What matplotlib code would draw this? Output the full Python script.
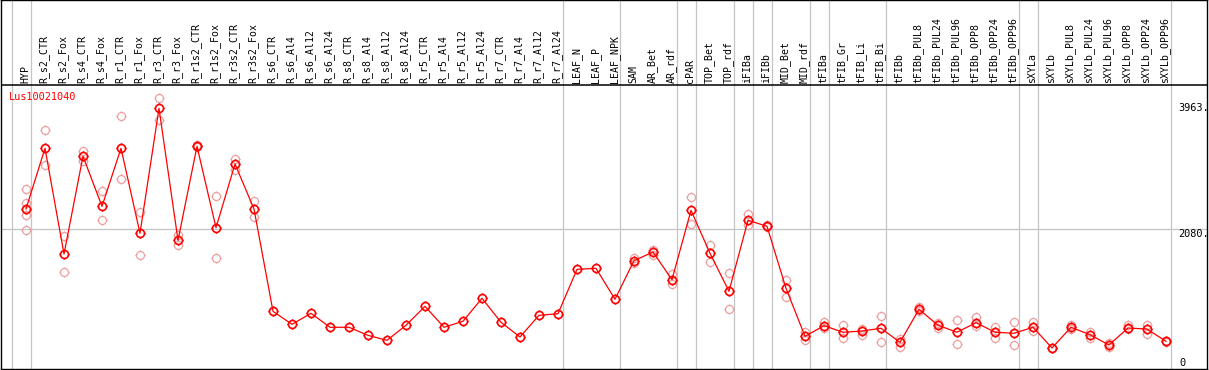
import matplotlib
matplotlib.use("Agg")
import matplotlib.pyplot as plt
import matplotlib.path as mpath

title = "Lus10021040"

categories = [
    "HYP", "R_s2_CTR", "R_s2_Fox", "R_s4_CTR", "R_s4_Fox", "R_r1_CTR", "R_r1_Fox",
    "R_r3_CTR", "R_r3_Fox", "R_r1s2_CTR", "R_r1s2_Fox", "R_r3s2_CTR", "R_r3s2_Fox",
    "R_s6_CTR", "R_s6_Al4", "R_s6_Al12", "R_s6_Al24", "R_s8_CTR", "R_s8_Al4",
    "R_s8_Al12", "R_s8_Al24", "R_r5_CTR", "R_r5_Al4", "R_r5_Al12", "R_r5_Al24",
    "R_r7_CTR", "R_r7_Al4", "R_r7_Al12", "R_r7_Al24", "LEAF_N", "LEAF_P", "LEAF_NPK",
    "SAM", "AR_Bet", "AR_rdf", "cPAR", "TOP_Bet", "TOP_rdf", "iFIBa", "iFIBb",
    "MID_Bet", "MID_rdf", "tFIBa", "tFIB_Gr", "tFIB_Li", "tFIB_Bi", "tFIBb",
    "tFIBb_PUL8", "tFIBb_PUL24", "tFIBb_PUL96", "tFIBb_OPP8", "tFIBb_OPP24",
    "tFIBb_OPP96", "sXYLa", "sXYLb", "sXYLb_PUL8", "sXYLb_PUL24", "sXYLb_PUL96",
    "sXYLb_OPP8", "sXYLb_OPP24", "sXYLb_OPP96",
]

means = [
    2375, 3287, 1698, 3167, 2415, 3287, 2010, 3888, 1904, 3317, 2094, 3051, 2375,
    837, 642, 807, 597, 597, 476, 401, 627, 912, 597, 687, 1033, 672, 451, 777, 801,
    1468, 1483, 1018, 1598, 1728, 1312, 2355, 1709, 1138, 2205, 2115, 1183, 461,
    621, 522, 541, 582, 371, 867, 627, 522, 666, 522, 507, 597, 286, 597, 485, 331,
    586, 571, 386,
]

replicates = [
    [2671, 2465, 2292, 2055], [3558, 3032], [1964, 1428], [3251, 3101], [2641, 2205],
    [3768, 2826], [2325, 1679], [4043, 3717], [1988, 1838], [3332, 3302], [2566, 1634],
    [3131, 2965], [2490, 2250],
    [], [], [], [], [], [], [], [], [], [], [], [], [], [], [], [], [], [], [],
    [1634, 1563], [1763, 1688], [1402, 1247], [2551, 2154], [1834, 1578], [1408, 872],
    [2295, 2130], [2139, 2100], [1308, 1057], [522, 406], [676, 586], [627, 436],
    [576, 485], [762, 371], [425, 301], [897, 846], [666, 586], [702, 350], [747, 612],
    [597, 436], [672, 326], [676, 537], [283, 289], [636, 567], [531, 436], [356, 305],
    [627, 567], [636, 496], [380, 392],
]

group_ends = [-1, 0, 28, 31, 34, 35, 37, 38, 39, 41, 42, 45, 52, 53, 60]

axis_labels = [3963, 2080, 0]

# ---- layout (pixel geometry of the reference) ----
W, H = 1209, 370
X0PIX, XSTEP = 26.0, 19.0          # pixel of first category, spacing
Y0PIX, UPP = 367.0, 15.03          # pixel of value 0, value units per pixel
SEP_PIX = 85.0                     # black line between labels and plot

def px_to_x(px):
    return (px - X0PIX) / XSTEP

def py_to_v(py):
    return (Y0PIX - py) * UPP

fig = plt.figure(figsize=(W / 100, H / 100), dpi=100)
ax = fig.add_axes([1 / W, 1 / H, 1206 / W, 369 / H])
ax.set_xlim(px_to_x(1), px_to_x(1207))
ax.set_ylim(py_to_v(369), py_to_v(0))
ax.set_xticks([])
ax.set_yticks([])
for s in ax.spines.values():
    s.set_color("black")
    s.set_linewidth(1.0)

mono = "DejaVu Sans Mono"
grey = "#c4c4c4"

# separators and grid
for g in group_ends:
    ax.axvline(g + 0.25, color=grey, lw=0.9, zorder=1)
ax.axhline(2080, color=grey, lw=0.9, zorder=1)
ax.axhline(py_to_v(SEP_PIX), color="black", lw=1.1, zorder=2)

# marker: circle with small ticks
circ = mpath.Path.unit_circle()
verts = list(circ.vertices)
codes = list(circ.codes)
for (a, b, c, d) in [(0, 1, 0, 1.25), (0, -1, 0, -1.25), (1, 0, 1.25, 0), (-1, 0, -1.25, 0)]:
    verts += [(a, b), (c, d)]
    codes += [mpath.Path.MOVETO, mpath.Path.LINETO]
tick_circle = mpath.Path(verts, codes)

# replicates
rx, ry = [], []
for i, reps in enumerate(replicates):
    for r in reps:
        rx.append(i)
        ry.append(r)
ax.plot(rx, ry, ls="none", marker=tick_circle, markersize=7.2,
        markerfacecolor="none", markeredgecolor="#eaa0a0", markeredgewidth=0.9, zorder=3)

# means
xs = list(range(len(categories)))
ax.plot(xs, means, color="#ff0000", lw=0.9, zorder=4)
ax.plot(xs, means, ls="none", marker=tick_circle, markersize=7.2,
        markerfacecolor="none", markeredgecolor="#ff0000", markeredgewidth=1.2, zorder=5)

# category labels
for i, lab in enumerate(categories):
    ax.text(i - 0.05, py_to_v(SEP_PIX - 2), lab, rotation=90, ha="center", va="bottom",
            fontsize=7.1, family=mono, color="black", zorder=6)

# title
ax.text(px_to_x(9), py_to_v(92), title, ha="left", va="top", fontsize=7.4,
        family=mono, color="#ff0000", zorder=6)

# right value labels
for v in axis_labels:
    if v == 0:
        ax.text(px_to_x(1179), py_to_v(366), "0", ha="left", va="baseline",
                fontsize=7.4, family=mono, color="black")
    else:
        ax.text(px_to_x(1178), v, f"{v}.", ha="left", va="top",
                fontsize=7.4, family=mono, color="black")

fig.savefig("out.png", dpi=100)
